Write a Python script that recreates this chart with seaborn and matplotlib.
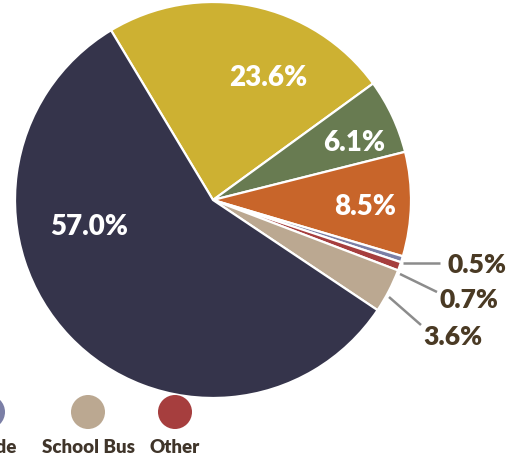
import numpy as np
import matplotlib
matplotlib.use("Agg")
import matplotlib.pyplot as plt
import seaborn as sns

# ---- data (clockwise from the navy/yellow boundary) ----
categories = ["Walk", "Carpool", "Bike", "Ride", "Other", "School Bus", "Family Vehicle"]
shares = [23.6, 6.1, 8.5, 0.5, 0.7, 3.6, 57.0]
pct_labels = ["23.6%", "6.1%", "8.5%", "0.5%", "0.7%", "3.6%", "57.0%"]
colors = ["#CDB132", "#687B51", "#C8652A", "#7B7FA6", "#A63E3E", "#BBA891", "#35344B"]

# legend items visible in the reference (it is cut off at the left edge)
legend_items = ["Ride", "School Bus", "Other"]

sns.set_theme(style="white")
plt.rcParams["font.family"] = ["Lato", "DejaVu Sans"]

W, H = 527, 477
fig = plt.figure(figsize=(W / 100, H / 100), dpi=100)
ax = fig.add_axes([0, 0, 1, 1])

# pixel geometry of the pie
cx, cy, R = 213, 201, 198

palette = sns.color_palette(colors)
wedges, _ = ax.pie(shares, colors=palette, startangle=121, counterclock=False,
                   radius=1.0, center=(0, 0),
                   wedgeprops=dict(edgecolor="white", linewidth=1.6))

ax.set_xlim(-cx / R, (W - cx) / R)
ax.set_ylim(-(H - cy) / R, cy / R)
ax.set_axis_off()

def px(x, y):
    return ((x - cx) / R, (cy - y) / R)

# inside labels: (angle deg, radius)
inside = {0: (66, 0.68), 1: (22.4, 0.77), 2: (-2.3, 0.77), 6: (192, 0.64)}
for i, (ang, r) in inside.items():
    a = np.deg2rad(ang)
    ax.text(r * np.cos(a), r * np.sin(a), pct_labels[i], color="white",
            fontsize=20, fontweight="heavy", ha="center", va="center")

# outside labels with leader lines
outside = {3: ((403, 264), (440, 264), (477, 265)),
           4: ((400, 275), (437, 293), (469, 300)),
           5: ((389, 298), (421, 326), (453, 337))}
for i, (p0, p1, pt) in outside.items():
    x0, y0 = px(*p0)
    x1, y1 = px(*p1)
    ax.plot([x0, x1], [y0, y1], color="#8C8C8C", lw=1.8, solid_capstyle="butt")
    tx, ty = px(*pt)
    ax.text(tx, ty, pct_labels[i], color="#4A3A24", fontsize=19,
            fontweight="heavy", ha="center", va="center")

# custom legend: circle above label
leg_color = dict(zip(categories, colors))
leg_x = [-12, 88, 175]
leg_tx = [-2, 88, 175]
for name, x, xt in zip(legend_items, leg_x, leg_tx):
    mx, my = px(x, 413)
    ax.scatter([mx], [my], s=600, color=leg_color[name], edgecolor="none",
               clip_on=True)
    tx, ty = px(xt, 448)
    ax.text(tx, ty, name, color="#40352A", fontsize=13.5, fontweight="heavy",
            ha="center", va="center", clip_on=True)

fig.savefig("out.png", dpi=100)
